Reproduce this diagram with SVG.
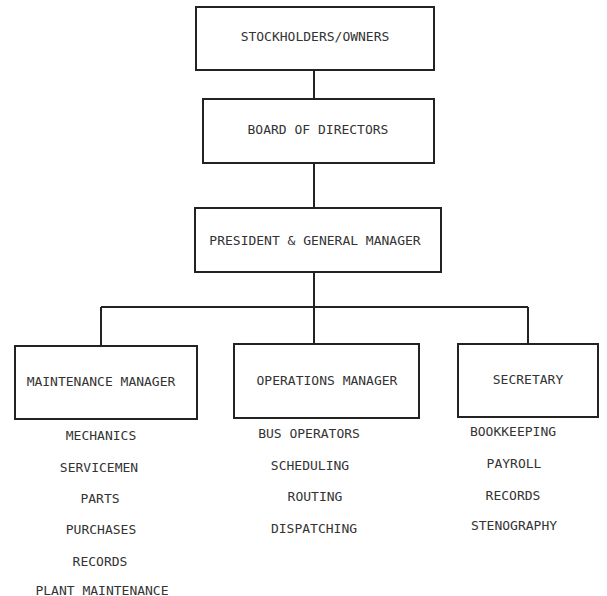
<svg xmlns="http://www.w3.org/2000/svg" width="607" height="596" viewBox="0 0 607 596">
<style>
.box{fill:#fff;stroke:#222;stroke-width:2}
.ln{fill:none;stroke:#222;stroke-width:2}
text{font-family:"DejaVu Sans Mono","Liberation Mono",monospace;font-size:13px;fill:#333;text-anchor:middle;dominant-baseline:central}
</style>
<rect width="607" height="596" fill="#fff"/>
<g id="connectors">
<path class="ln" d="M314 70V99M314 163V208M314 272V344M101 307H528M101 307V346M528 307V344"/>
</g>
<g id="stockholders"><rect class="box" x="196" y="7" width="238" height="63"/><text x="315" y="36">STOCKHOLDERS/OWNERS</text></g>
<g id="board"><rect class="box" x="203" y="99" width="231" height="64"/><text x="318" y="129">BOARD OF DIRECTORS</text></g>
<g id="president"><rect class="box" x="195" y="208" width="246" height="64"/><text x="315" y="240">PRESIDENT &amp; GENERAL MANAGER</text></g>
<g id="maintenance"><rect class="box" x="15" y="346" width="182" height="73"/><text x="101" y="381">MAINTENANCE MANAGER</text></g>
<g id="operations"><rect class="box" x="234" y="344" width="185" height="74"/><text x="327" y="380">OPERATIONS MANAGER</text></g>
<g id="secretary"><rect class="box" x="458" y="344" width="140" height="73"/><text x="528" y="379">SECRETARY</text></g>
<g id="maintenance-duties">
<text x="101" y="435">MECHANICS</text>
<text x="99" y="467">SERVICEMEN</text>
<text x="100" y="498">PARTS</text>
<text x="101" y="529">PURCHASES</text>
<text x="100" y="561">RECORDS</text>
<text x="102" y="590">PLANT MAINTENANCE</text>
</g>
<g id="operations-duties">
<text x="309" y="433">BUS OPERATORS</text>
<text x="310" y="465">SCHEDULING</text>
<text x="315" y="496">ROUTING</text>
<text x="314" y="528">DISPATCHING</text>
</g>
<g id="secretary-duties">
<text x="513" y="431">BOOKKEEPING</text>
<text x="514" y="463">PAYROLL</text>
<text x="513" y="495">RECORDS</text>
<text x="514" y="525">STENOGRAPHY</text>
</g>
</svg>
